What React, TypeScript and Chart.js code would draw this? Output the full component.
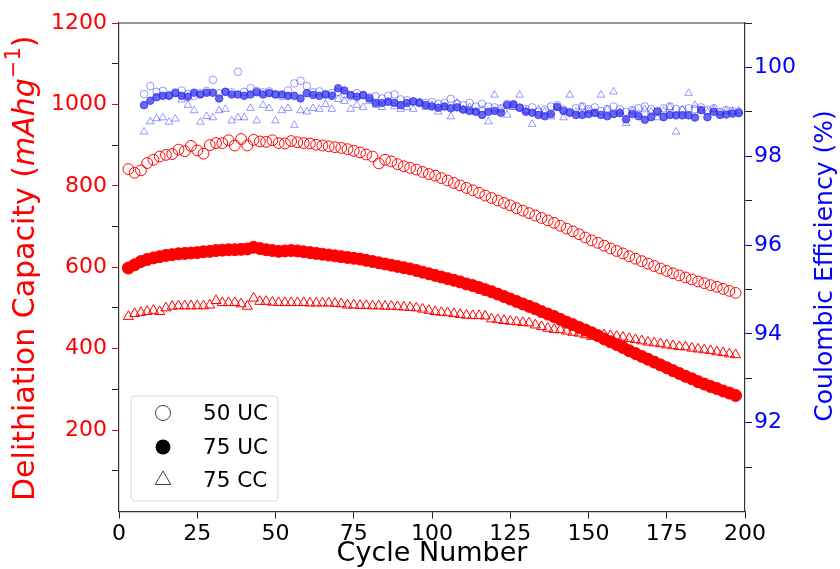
import React, { useEffect, useRef } from 'react';
import { Chart, registerables } from 'chart.js';

Chart.register(...registerables);

const FONT = '"DejaVu Sans", sans-serif';
const RED = '#ff0000';
const BLUE = '#0000ff';
const SPINE = '#333333';

const X_TITLE = 'Cycle Number';
const Y_TITLE_PARTS = ['Delithiation Capacity (', 'mAhg', '\u22121', ')'];
const Y2_TITLE = 'Coulombic Efficiency (%)';
const LEGEND_LABELS = ['50 UC', '75 UC', '75 CC'];

const X_TICK_STEP = 25;
const Y_TICK_LABELS = [200, 400, 600, 800, 1000, 1200];
const Y2_TICK_LABELS = [92, 94, 96, 98, 100];

// capacity cycles (odd cycles)
const capCycles = [
  3, 5, 7, 9, 11, 13, 15, 17, 19, 21,
  23, 25, 27, 29, 31, 33, 35, 37, 39, 41,
  43, 45, 47, 49, 51, 53, 55, 57, 59, 61,
  63, 65, 67, 69, 71, 73, 75, 77, 79, 81,
  83, 85, 87, 89, 91, 93, 95, 97, 99, 101,
  103, 105, 107, 109, 111, 113, 115, 117, 119, 121,
  123, 125, 127, 129, 131, 133, 135, 137, 139, 141,
  143, 145, 147, 149, 151, 153, 155, 157, 159, 161,
  163, 165, 167, 169, 171, 173, 175, 177, 179, 181,
  183, 185, 187, 189, 191, 193, 195, 197,
];

const cap50UC = [
  841, 832, 838, 856, 864, 872, 876, 878, 889, 885,
  898, 887, 879, 900, 905, 905, 912, 899, 915, 899,
  913, 909, 908, 912, 905, 904, 910, 907, 905, 904,
  901, 899, 897, 895, 893, 890, 886, 882, 877, 872,
  855, 864, 860, 853, 848, 844, 840, 834, 829, 825,
  819, 813, 807, 801, 795, 789, 783, 776, 770, 764,
  758, 752, 745, 739, 733, 727, 721, 715, 709, 702,
  695, 688, 681, 673, 666, 660, 653, 646, 640, 634,
  627, 621, 615, 609, 603, 597, 591, 585, 580, 575,
  570, 565, 561, 556, 552, 547, 542, 537,
];

const cap75UC = [
  598, 606, 614, 619, 623, 626, 629, 631, 633, 634,
  635, 636, 638, 639, 641, 642, 643, 643, 644, 645,
  649, 646, 643, 641, 639, 640, 641, 640, 638, 636,
  634, 632, 630, 628, 626, 624, 622, 620, 617, 614,
  611, 608, 605, 602, 599, 596, 592, 588, 584, 580,
  576, 572, 568, 564, 559, 555, 550, 545, 540, 534,
  528, 522, 516, 510, 504, 498, 491, 485, 479, 472,
  465, 459, 452, 446, 439, 432, 424, 417, 410, 403,
  395, 388, 381, 374, 367, 360, 353, 346, 339, 332,
  326, 319, 313, 307, 302, 296, 291, 285,
];

const cap75CC = [
  479, 486, 489, 491, 494, 491, 500, 504, 505, 505,
  505, 505, 505, 507, 518, 513, 513, 513, 510, 504,
  524, 516, 516, 514, 513, 513, 513, 513, 513, 512,
  512, 512, 512, 511, 510, 507, 507, 506, 506, 505,
  505, 504, 504, 503, 502, 501, 500, 497, 494, 491,
  489, 488, 486, 484, 482, 481, 481, 480, 473, 471,
  469, 467, 466, 464, 463, 458, 454, 450, 447, 446,
  443, 440, 438, 434, 430, 432, 434, 432, 430, 428,
  425, 422, 419, 416, 414, 412, 409, 407, 405, 404,
  401, 399, 397, 395, 392, 390, 387, 385,
];

// coulombic efficiency cycles (even cycles)
const ceCycles = [
  8, 10, 12, 14, 16, 18, 20, 22, 24, 26,
  28, 30, 32, 34, 36, 38, 40, 42, 44, 46,
  48, 50, 52, 54, 56, 58, 60, 62, 64, 66,
  68, 70, 72, 74, 76, 78, 80, 82, 84, 86,
  88, 90, 92, 94, 96, 98, 100, 102, 104, 106,
  108, 110, 112, 114, 116, 118, 120, 122, 124, 126,
  128, 130, 132, 134, 136, 138, 140, 142, 144, 146,
  148, 150, 152, 154, 156, 158, 160, 162, 164, 166,
  168, 170, 172, 174, 176, 178, 180, 182, 184, 186,
  188, 190, 192, 194, 196, 198,
];

const ce75UC = [
  99.15, 99.25, 99.33, 99.36, 99.36, 99.42, 99.36, 99.34, 99.43, 99.39,
  99.43, 99.43, 99.30, 99.45, 99.39, 99.39, 99.36, 99.39, 99.44, 99.39,
  99.42, 99.39, 99.39, 99.36, 99.36, 99.30, 99.42, 99.38, 99.36, 99.39,
  99.36, 99.53, 99.48, 99.38, 99.34, 99.38, 99.30, 99.20, 99.20, 99.23,
  99.20, 99.15, 99.20, 99.23, 99.20, 99.15, 99.12, 99.09, 99.12, 99.08,
  99.10, 99.05, 99.02, 99.00, 98.93, 99.00, 99.02, 98.98, 99.15, 99.17,
  99.09, 99.00, 98.98, 98.93, 98.90, 98.95, 99.11, 99.02, 98.98, 98.93,
  98.93, 98.95, 98.98, 98.93, 98.90, 98.95, 98.97, 98.83, 98.95, 98.90,
  98.82, 98.88, 99.00, 98.88, 98.93, 98.92, 98.92, 98.92, 98.87, 99.04,
  98.88, 99.00, 98.93, 98.94, 98.96, 98.97,
];

const ce50UC = [
  99.40, 99.58, 99.45, 99.47, 99.38, 99.44, 99.48, 99.40, 99.36, 99.42,
  99.47, 99.72, 99.42, 99.45, 99.44, 99.90, 99.45, 99.53, 99.47, 99.44,
  99.46, 99.40, 99.35, 99.48, 99.64, 99.70, 99.58, 99.44, 99.46, 99.40,
  99.42, 99.45, 99.40, 99.35, 99.42, 99.37, 99.33, 99.35, 99.30, 99.36,
  99.39, 99.28, 99.26, 99.24, 99.22, 99.20, 99.22, 99.18, 99.20, 99.29,
  99.18, 99.15, 99.20, 99.12, 99.18, 99.12, 99.10, 99.08, 99.18, 99.14,
  99.10, 99.06, 99.10, 99.00, 99.05, 99.12, 99.15, 99.05, 99.00, 99.08,
  99.12, 99.06, 99.10, 99.02, 99.06, 99.12, 99.06, 99.00, 99.04, 99.08,
  99.12, 99.06, 99.02, 99.08, 99.12, 99.06, 99.04, 99.08, 99.06, 99.10,
  99.04, 99.08, 99.00, 99.04, 99.02, 99.00,
];

const ce75CC = [
  98.55, 98.78, 98.85, 98.87, 98.77, 98.84, 99.27, 99.15, 99.03, 98.77,
  98.90, 98.87, 99.03, 99.06, 98.80, 98.87, 98.87, 99.08, 98.80, 99.15,
  99.08, 98.80, 99.03, 99.08, 98.70, 99.03, 99.00, 99.08, 99.06, 99.17,
  99.06, 99.28, 99.24, 99.06, 99.15, 99.10, 99.24, 99.15, 99.10, 99.20,
  99.12, 99.06, 99.10, 99.06, 99.20, 99.10, 99.15, 99.00, 99.10, 98.89,
  99.20, 99.05, 99.10, 99.00, 99.05, 98.78, 99.38, 99.05, 98.93, 99.10,
  99.38, 99.02, 98.72, 99.05, 99.00, 98.89, 99.09, 98.87, 99.38, 99.00,
  99.11, 99.02, 98.95, 99.38, 99.05, 99.45, 99.00, 98.74, 99.02, 98.95,
  99.05, 99.00, 98.87, 99.02, 99.10, 98.55, 99.05, 99.42, 99.15, 99.02,
  99.00, 99.06, 98.98, 99.02, 99.00, 99.02,
];

const pts = (xs: number[], ys: number[]) => xs.map((x, i) => ({ x, y: ys[i] }));

const overlayPlugin = {
  id: 'overlay',
  afterDraw(chart: any) {
    const { ctx, chartArea: a } = chart;
    const midY = (a.top + a.bottom) / 2;
    ctx.save();
    // top spine
    ctx.strokeStyle = SPINE;
    ctx.lineWidth = 1.2;
    ctx.beginPath();
    ctx.moveTo(a.left, a.top);
    ctx.lineTo(a.right, a.top);
    ctx.stroke();

    // x title
    ctx.fillStyle = '#000';
    ctx.font = `27px ${FONT}`;
    ctx.textAlign = 'center';
    ctx.textBaseline = 'middle';
    ctx.fillText(X_TITLE, (a.left + a.right) / 2, 554);

    // left title with italic part and superscript
    const S = 30;
    const parts = [
      { t: Y_TITLE_PARTS[0], f: `${S}px ${FONT}`, dy: 0 },
      { t: Y_TITLE_PARTS[1], f: `italic ${S}px ${FONT}`, dy: 0 },
      { t: Y_TITLE_PARTS[2], f: `${Math.round(S * 0.7)}px ${FONT}`, dy: -S * 0.38 },
      { t: Y_TITLE_PARTS[3], f: `${S}px ${FONT}`, dy: 0 },
    ];
    ctx.save();
    ctx.translate(26, midY + 1);
    ctx.rotate(-Math.PI / 2);
    ctx.fillStyle = RED;
    ctx.textAlign = 'left';
    ctx.textBaseline = 'middle';
    let total = 0;
    parts.forEach((p) => {
      ctx.font = p.f;
      total += ctx.measureText(p.t).width;
    });
    let px = -total / 2;
    parts.forEach((p) => {
      ctx.font = p.f;
      ctx.fillText(p.t, px, p.dy);
      px += ctx.measureText(p.t).width;
    });
    ctx.restore();

    // right title
    ctx.save();
    ctx.translate(825, 266);
    ctx.rotate(-Math.PI / 2);
    ctx.fillStyle = BLUE;
    ctx.font = `25px ${FONT}`;
    ctx.textAlign = 'center';
    ctx.textBaseline = 'middle';
    ctx.fillText(Y2_TITLE, 0, 0);
    ctx.restore();

    // legend box
    const bx = 131, by = 396, bw = 147, bh = 105, r = 4;
    ctx.beginPath();
    ctx.moveTo(bx + r, by);
    ctx.lineTo(bx + bw - r, by);
    ctx.quadraticCurveTo(bx + bw, by, bx + bw, by + r);
    ctx.lineTo(bx + bw, by + bh - r);
    ctx.quadraticCurveTo(bx + bw, by + bh, bx + bw - r, by + bh);
    ctx.lineTo(bx + r, by + bh);
    ctx.quadraticCurveTo(bx, by + bh, bx, by + bh - r);
    ctx.lineTo(bx, by + r);
    ctx.quadraticCurveTo(bx, by, bx + r, by);
    ctx.closePath();
    ctx.fillStyle = 'rgba(255,255,255,0.85)';
    ctx.fill();
    ctx.strokeStyle = '#d8d8d8';
    ctx.lineWidth = 1;
    ctx.stroke();

    const mx = 163;
    const rows = [413, 447, 480];
    ctx.strokeStyle = '#444';
    ctx.lineWidth = 1;
    ctx.beginPath();
    ctx.arc(mx, rows[0], 7.5, 0, Math.PI * 2);
    ctx.stroke();
    ctx.fillStyle = '#000';
    ctx.beginPath();
    ctx.arc(mx, rows[1], 7.5, 0, Math.PI * 2);
    ctx.fill();
    const tr = 9;
    ctx.beginPath();
    for (let k = 0; k < 3; k++) {
      const ang = -Math.PI / 2 + (k * 2 * Math.PI) / 3;
      const vx = mx + Math.cos(ang) * tr;
      const vy = rows[2] + Math.sin(ang) * tr;
      if (k === 0) ctx.moveTo(vx, vy);
      else ctx.lineTo(vx, vy);
    }
    ctx.closePath();
    ctx.strokeStyle = '#444';
    ctx.stroke();

    ctx.fillStyle = '#000';
    ctx.font = `21.5px ${FONT}`;
    ctx.textAlign = 'left';
    ctx.textBaseline = 'middle';
    LEGEND_LABELS.forEach((l, i) => ctx.fillText(l, 203, rows[i] + 1));

    ctx.restore();
  },
};

export default function App() {
  const ref = useRef<HTMLCanvasElement | null>(null);

  useEffect(() => {
    if (!ref.current) return;
    const chart = new Chart(ref.current, {
      type: 'scatter',
      data: {
        datasets: [
          {
            label: '75 UC CE',
            data: pts(ceCycles, ce75UC),
            yAxisID: 'y1',
            pointStyle: 'circle',
            pointRadius: 3.8,
            pointBackgroundColor: 'rgba(45,45,235,0.72)',
            pointBorderColor: 'rgba(45,45,235,0.72)',
            pointBorderWidth: 1,
          },
          {
            label: '50 UC CE',
            data: pts(ceCycles, ce50UC),
            yAxisID: 'y1',
            pointStyle: 'circle',
            pointRadius: 3.8,
            pointBackgroundColor: 'rgba(0,0,0,0)',
            pointBorderColor: 'rgba(0,0,255,0.4)',
            pointBorderWidth: 1,
          },
          {
            label: '75 CC CE',
            data: pts(ceCycles, ce75CC),
            yAxisID: 'y1',
            pointStyle: 'triangle',
            pointRadius: 4.4,
            pointBackgroundColor: 'rgba(0,0,0,0)',
            pointBorderColor: 'rgba(0,0,255,0.4)',
            pointBorderWidth: 1,
          },
          {
            label: '75 UC',
            data: pts(capCycles, cap75UC),
            yAxisID: 'y',
            pointStyle: 'circle',
            pointRadius: 6,
            pointBackgroundColor: RED,
            pointBorderColor: RED,
            pointBorderWidth: 1,
          },
          {
            label: '50 UC',
            data: pts(capCycles, cap50UC),
            yAxisID: 'y',
            pointStyle: 'circle',
            pointRadius: 5.4,
            pointBackgroundColor: 'rgba(0,0,0,0)',
            pointBorderColor: RED,
            pointBorderWidth: 1,
          },
          {
            label: '75 CC',
            data: pts(capCycles, cap75CC),
            yAxisID: 'y',
            pointStyle: 'triangle',
            pointRadius: 5.8,
            pointBackgroundColor: 'rgba(0,0,0,0)',
            pointBorderColor: RED,
            pointBorderWidth: 1,
          },
        ],
      },
      options: {
        animation: false,
        responsive: false,
        devicePixelRatio: 1,
        events: [],
        layout: { padding: { top: 23, left: 0, right: 0, bottom: 0 }, autoPadding: false },
        plugins: { legend: { display: false }, tooltip: { enabled: false } },
        scales: {
          x: {
            type: 'linear',
            position: 'bottom',
            min: 0,
            max: 200,
            ticks: {
              stepSize: X_TICK_STEP,
              color: '#000',
              font: { family: FONT, size: 22 },
              padding: 3,
              autoSkip: false,
              maxRotation: 0,
            },
            grid: { drawOnChartArea: false, drawTicks: true, tickLength: 7, tickColor: '#222', tickWidth: 1 },
            border: { color: SPINE, width: 1.2 },
            afterFit: (s: any) => { s.height = 57.5; },
          },
          y: {
            type: 'linear',
            position: 'left',
            min: 0,
            max: 1200,
            ticks: {
              stepSize: 100,
              color: RED,
              font: { family: FONT, size: 22 },
              padding: 5,
              autoSkip: false,
              callback: (v: any) => (Y_TICK_LABELS.includes(Number(v)) ? String(v) : ''),
            },
            grid: {
              drawOnChartArea: false,
              drawTicks: true,
              tickLength: 7,
              tickWidth: 1,
              tickColor: (c: any) => {
                const v = c.tick ? c.tick.value : 0;
                if (v === 0) return 'rgba(0,0,0,0)';
                return Y_TICK_LABELS.includes(v) ? RED : '#222';
              },
            },
            border: { color: SPINE, width: 1.2 },
            afterFit: (s: any) => { s.width = 119; },
          },
          y1: {
            type: 'linear',
            position: 'right',
            min: 90,
            max: 101,
            ticks: {
              stepSize: 1,
              color: BLUE,
              font: { family: FONT, size: 22 },
              padding: 2,
              autoSkip: false,
              callback: (v: any) => (Y2_TICK_LABELS.includes(Number(v)) ? String(v) : ''),
            },
            grid: {
              drawOnChartArea: false,
              drawTicks: true,
              tickLength: 7,
              tickWidth: 1,
              tickColor: (c: any) => {
                const v = c.tick ? c.tick.value : 90;
                if (v === 90) return 'rgba(0,0,0,0)';
                return Y2_TICK_LABELS.includes(v) ? BLUE : '#222';
              },
            },
            border: { color: SPINE, width: 1.2 },
            afterFit: (s: any) => { s.width = 95; },
          },
        },
      },
      plugins: [overlayPlugin],
    } as any);
    return () => chart.destroy();
  }, []);

  return (
    <canvas
      ref={ref}
      width={840}
      height={569}
      style={{ position: 'fixed', left: 0, top: 0, width: 840, height: 569, display: 'block', background: '#fff' }}
    />
  );
}
